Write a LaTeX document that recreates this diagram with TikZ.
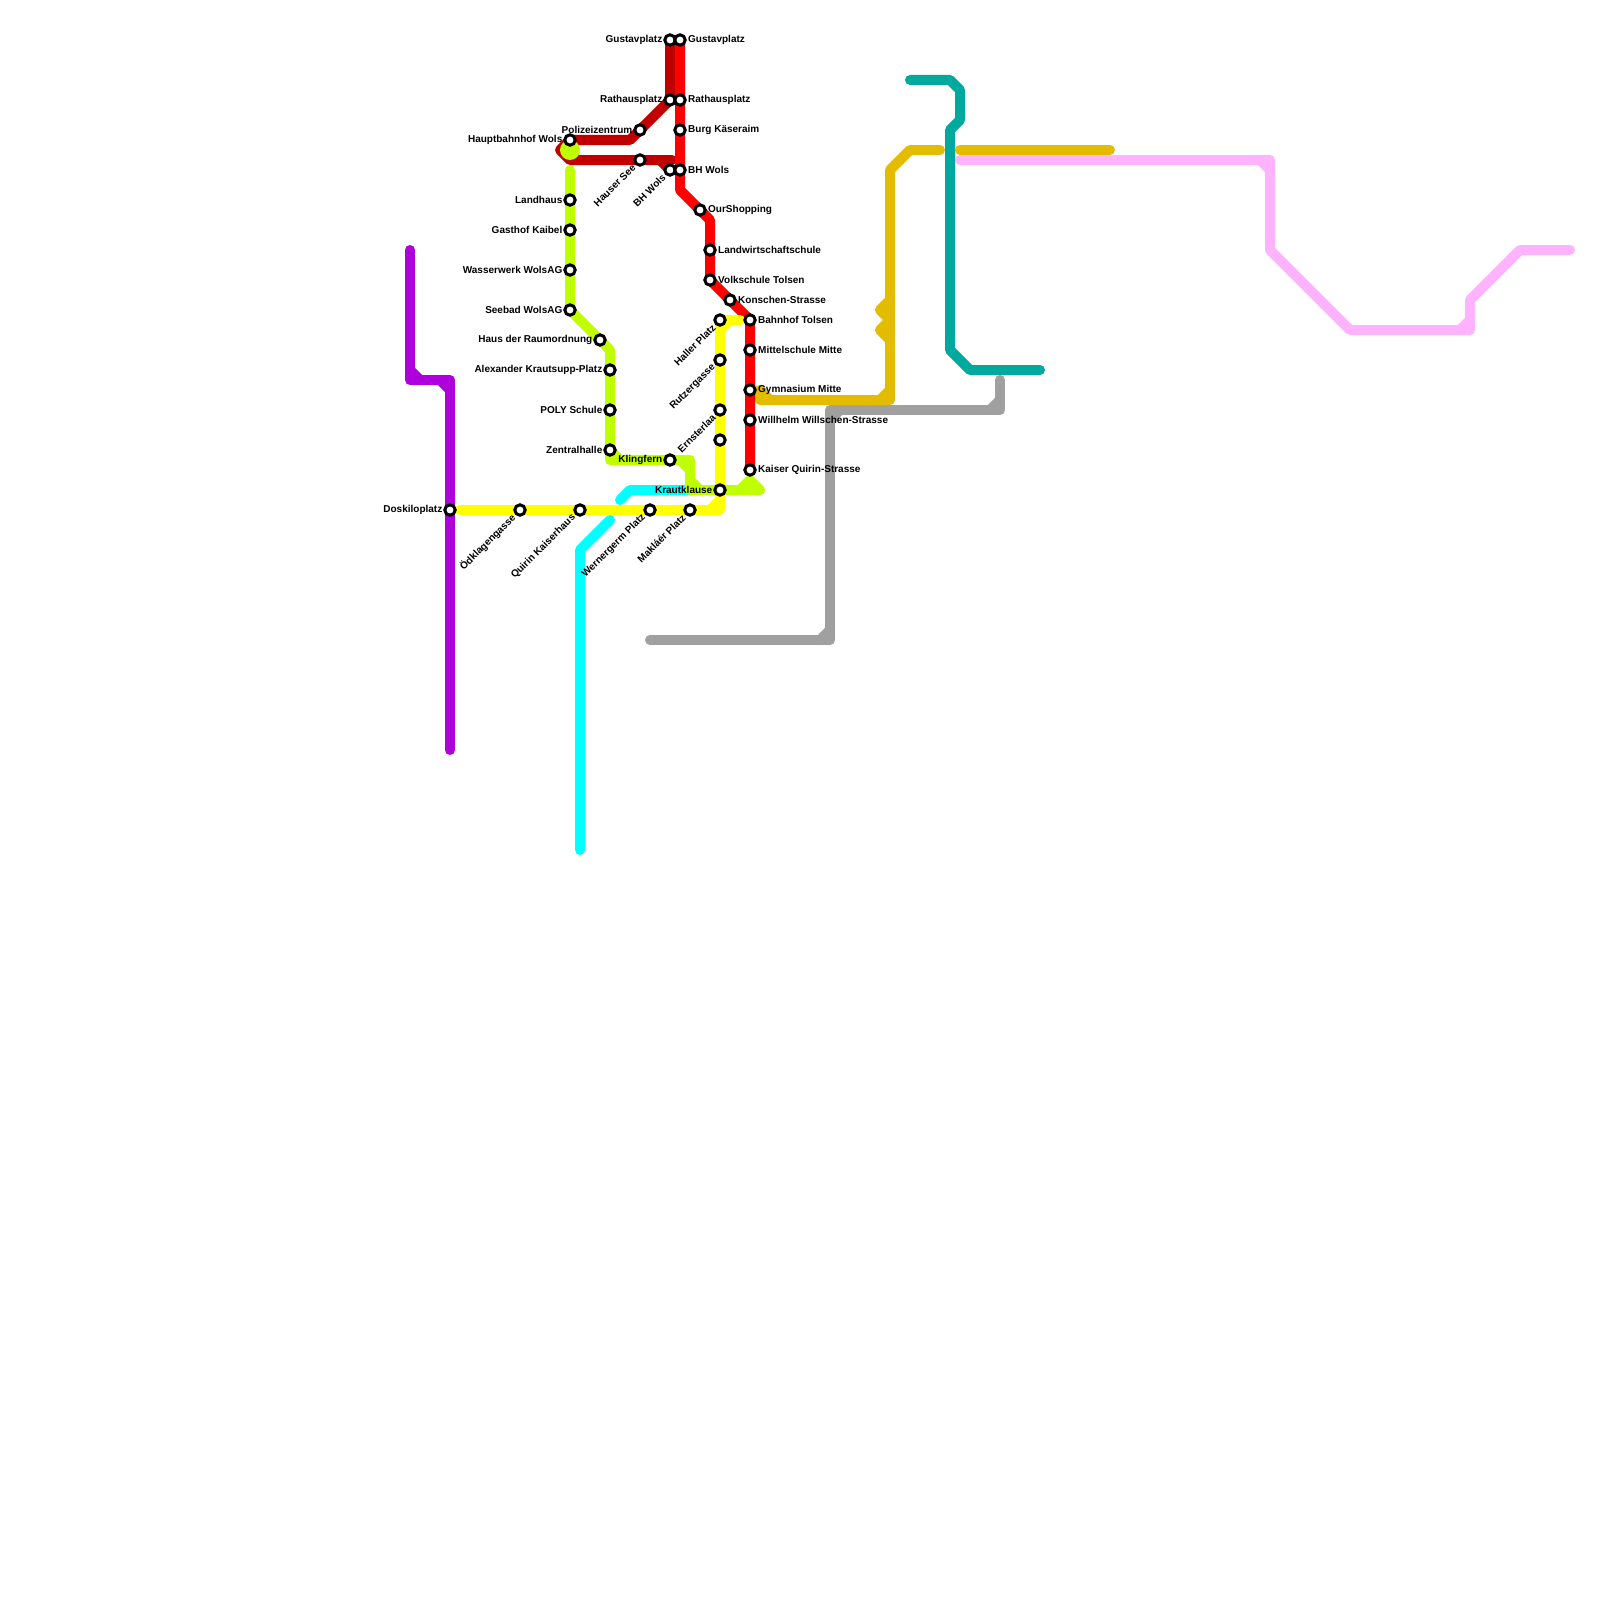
\documentclass[tikz,border=0pt]{standalone}
\usepackage{fontspec}
\setmainfont{Liberation Sans}
\definecolor{cpurple}{HTML}{AE00DC}
\definecolor{clime}{HTML}{BFFF00}
\definecolor{cred}{HTML}{FF0000}
\definecolor{cdark}{HTML}{C00000}
\definecolor{cyel}{HTML}{FFFF00}
\definecolor{ccyan}{HTML}{00FFFF}
\definecolor{cgold}{HTML}{E3BC00}
\definecolor{cteal}{HTML}{00A99D}
\definecolor{cgray}{HTML}{A0A0A0}
\definecolor{cpink}{HTML}{FFB3FF}
\pgfdeclarelayer{routes}
\pgfsetlayers{routes,main}
\tikzset{
  route/.style={line width=10pt,line cap=round,line join=round},
  stop/.style={circle,draw=black,fill=white,line width=3pt,minimum size=10.4pt,inner sep=0pt},
  lab/.style={font=\fontsize{10}{12}\bfseries\selectfont,text=black,inner sep=0pt},
  labL/.style={lab,anchor=east},
  labR/.style={lab,anchor=west},
  labD/.style={lab,anchor=east,rotate=45},
}
\newcommand{\sL}[2]{\node[labL] (t#1) at ([xshift=-7.5pt,yshift=-0.2pt]#1.center) {#2};}
\newcommand{\sR}[2]{\node[labR] (t#1) at ([xshift=8pt,yshift=-0.2pt]#1.center) {#2};}
\newcommand{\sD}[2]{\node[labD] (t#1) at ([xshift=-6pt,yshift=-6pt]#1.center) {#2};}
\begin{document}
\begin{tikzpicture}[x=1pt,y=-1pt]
\useasboundingbox (0,0) rectangle (1600,1600);
% stations
\foreach \n/\x/\y in {
  gustL/670/40,gustR/680/40,rathL/670/100,rathR/680/100,burg/680/130,bhL/670/170,bhR/680/170,
  ours/700/210,landw/710/250,volks/710/280,konsch/730/300,bahn/750/320,mittel/750/350,gymn/750/390,
  will/750/420,kaiser/750/470,poliz/640/130,hauser/640/160,hbf/570/140,landh/570/200,gasth/570/230,
  wasser/570/270,seebad/570/310,raum/600/340,alex/610/370,poly/610/410,zentral/610/450,kling/670/460,
  kraut/720/490,haller/720/320,rutz/720/360,ernst/720/410,unnamed/720/440,doski/450/510,oedk/520/510,
  quirin/580/510,werner/650/510,maklaer/690/510}
  {\node[stop] (\n) at (\x,\y) {};}
% purple
\coordinate (pu0) at (410,250); \coordinate (pu1) at (410,380); \coordinate (pu2) at (450,380); \coordinate (pu3) at (450,750);
\coordinate (pu4) at (410,370); \coordinate (pu5) at (420,380); \coordinate (pu6) at (440,380); \coordinate (pu7) at (450,390);
% lime
\coordinate (li0) at (570,170); \coordinate (li1) at (610,350); \coordinate (li2) at (610,460); \coordinate (li3) at (690,460);
\coordinate (li4) at (690,490); \coordinate (li5) at (760,490); \coordinate (li6) at (740,490); \coordinate (li7) at (750,480);
\coordinate (li8) at (620,460); \coordinate (li9) at (680,460); \coordinate (li10) at (690,470); \coordinate (li11) at (690,480); \coordinate (li12) at (700,490);
\coordinate (liblob) at (570,150);
% dark red
\coordinate (dr1) at (630,140); \coordinate (dr2) at (560,150); \coordinate (dr3) at (570,160); \coordinate (dr4) at (672,160); \coordinate (dr5) at (660,160);
% red
\coordinate (re1) at (680,190); \coordinate (re2) at (710,220);
% yellow
\coordinate (ye0) at (460,510); \coordinate (ye1) at (720,510); \coordinate (ye2) at (710,510); \coordinate (ye3) at (720,500);
\coordinate (ye4) at (720,330); \coordinate (ye5) at (730,320); \coordinate (ye6) at (740,320);
% cyan
\coordinate (cy0) at (620,500); \coordinate (cy1) at (630,490); \coordinate (cy2) at (700,490);
\coordinate (cy3) at (610,520); \coordinate (cy4) at (580,550); \coordinate (cy5) at (580,850);
% gold
\coordinate (go0) at (760,390); \coordinate (go1) at (760,400); \coordinate (go2) at (890,400); \coordinate (go3) at (890,170);
\coordinate (go4) at (910,150); \coordinate (go5) at (940,150); \coordinate (go6) at (770,400); \coordinate (go7) at (880,400); \coordinate (go8) at (890,390);
\coordinate (go9) at (890,300); \coordinate (go10) at (880,310); \coordinate (go11) at (890,320); \coordinate (go12) at (880,330); \coordinate (go13) at (890,340);
\coordinate (go14) at (960,150); \coordinate (go15) at (1110,150);
% pink
\coordinate (pi0) at (960,160); \coordinate (pi1) at (1270,160); \coordinate (pi2) at (1270,250); \coordinate (pi3) at (1350,330);
\coordinate (pi4) at (1470,330); \coordinate (pi5) at (1470,300); \coordinate (pi6) at (1520,250); \coordinate (pi7) at (1570,250);
\coordinate (pi8) at (1260,160); \coordinate (pi9) at (1270,170); \coordinate (pi10) at (1460,330); \coordinate (pi11) at (1470,320);
% teal
\coordinate (te0) at (910,80); \coordinate (te1) at (950,80); \coordinate (te2) at (960,90); \coordinate (te3) at (960,120);
\coordinate (te4) at (950,130); \coordinate (te5) at (950,350); \coordinate (te6) at (970,370); \coordinate (te7) at (1040,370);
% gray
\coordinate (gr0) at (650,640); \coordinate (gr1) at (830,640); \coordinate (gr2) at (830,410); \coordinate (gr3) at (1000,410); \coordinate (gr4) at (1000,380);
\coordinate (gr5) at (820,640); \coordinate (gr6) at (830,630); \coordinate (gr7) at (830,420); \coordinate (gr8) at (840,410); \coordinate (gr9) at (990,410); \coordinate (gr10) at (1000,400);
\begin{pgfonlayer}{routes}
\fill[white] (0,0) rectangle (1600,1600);
\draw[route,cgray] (gr0)--(gr1)--(gr2)--(gr3)--(gr4);
\draw[route,cgray] (gr5)--(gr6); \draw[route,cgray] (gr7)--(gr8); \draw[route,cgray] (gr9)--(gr10);
\draw[route,cgold] (go0)--(go1)--(go2)--(go3)--(go4)--(go5);
\draw[route,cgold] (go0)--(go6); \draw[route,cgold] (go7)--(go8);
\draw[route,cgold] (go9)--(go10)--(go11)--(go12)--(go13);
\draw[route,cgold] (go14)--(go15);
\draw[route,cpink] (pi0)--(pi1)--(pi2)--(pi3)--(pi4)--(pi5)--(pi6)--(pi7);
\draw[route,cpink] (pi8)--(pi9); \draw[route,cpink] (pi10)--(pi11);
\draw[route,cteal] (te0)--(te1)--(te2)--(te3)--(te4)--(te5)--(te6)--(te7);
\draw[route,cpurple] (pu0)--(pu1)--(pu2)--(pu3);
\draw[route,cpurple] (pu4)--(pu5); \draw[route,cpurple] (pu6)--(pu7);
\draw[route,ccyan] (cy0)--(cy1)--(cy2);
\draw[route,ccyan] (cy3)--(cy4)--(cy5);
\draw[route,cdark] (gustL.center)--(rathL.center)--(dr1)--(hbf.center)--(dr2)--(dr3)--(dr4);
\draw[route,cdark] (dr5)--(bhL.center);
\draw[route,cred] (gustR.center)--(bhR.center)--(re1)--(re2)--(volks.center)--(bahn.center)--(kaiser.center);
\draw[route,clime] (li0)--(seebad.center)--(li1)--(li2)--(li3)--(li4)--(li5);
\draw[route,clime] (li6)--(li7)--(li5);
\draw[route,clime] (zentral.center)--(li8);
\draw[route,clime] (li9)--(li10); \draw[route,clime] (li11)--(li12);
\fill[clime] (liblob) circle[radius=10];
\draw[route,cyel] (ye0)--(ye1)--(haller.center)--(ye6);
\draw[route,cyel] (ye2)--(ye3); \draw[route,cyel] (ye4)--(ye5);
\end{pgfonlayer}
% labels
\sL{gustL}{Gustavplatz}
\sR{gustR}{Gustavplatz}
\sL{rathL}{Rathausplatz}
\sR{rathR}{Rathausplatz}
\sR{burg}{Burg Käseraim}
\sD{bhL}{BH Wols}
\sR{bhR}{BH Wols}
\sR{ours}{OurShopping}
\sR{landw}{Landwirtschaftschule}
\sR{volks}{Volkschule Tolsen}
\sR{konsch}{Konschen-Strasse}
\sR{bahn}{Bahnhof Tolsen}
\sR{mittel}{Mittelschule Mitte}
\sR{gymn}{Gymnasium Mitte}
\sR{will}{Willhelm Willschen-Strasse}
\sR{kaiser}{Kaiser Quirin-Strasse}
\sL{poliz}{Polizeizentrum}
\sD{hauser}{Hauser See}
\sL{hbf}{Hauptbahnhof Wols}
\sL{landh}{Landhaus}
\sL{gasth}{Gasthof Kaibel}
\sL{wasser}{Wasserwerk WolsAG}
\sL{seebad}{Seebad WolsAG}
\sL{raum}{Haus der Raumordnung}
\sL{alex}{Alexander Krautsupp-Platz}
\sL{poly}{POLY Schule}
\sL{zentral}{Zentralhalle}
\sL{kling}{Klingfern}
\sL{kraut}{Krautklause}
\sD{haller}{Haller Platz}
\sD{rutz}{Rutzergasse}
\sD{ernst}{Ernsterlaa}
\sL{doski}{Doskiloplatz}
\sD{oedk}{Ödklagengasse}
\sD{quirin}{Quirin Kaiserhaus}
\sD{werner}{Wernergerm Platz}
\sD{maklaer}{Makláér Platz}
\end{tikzpicture}
\end{document}
